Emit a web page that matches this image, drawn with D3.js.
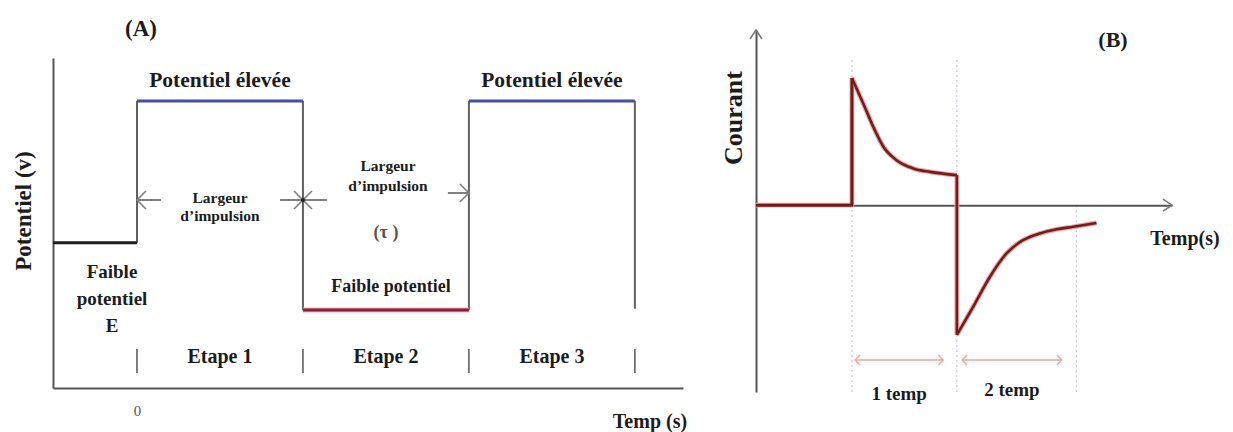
<!DOCTYPE html>
<html>
<head>
<meta charset="utf-8">
<script src="https://cdn.jsdelivr.net/npm/d3@7"></script>
<style>
  html, body { margin: 0; padding: 0; background: #fff; }
  svg { display: block; }
  text { font-family: "Liberation Serif", "Times New Roman", serif; font-weight: bold; fill: #1c1c1c; }
  .axis path { stroke: #555; stroke-width: 2; }
  .axis text { font-weight: normal; fill: #555; font-size: 15px; }
</style>
</head>
<body>
<svg id="chart" width="1233" height="432"></svg>
<script>
// ---------- Panel A: potential programme (time in pulse widths τ) ----------
const pulseEdges  = [0, 1, 2, 3];
const levelStart  = [-0.506, 0, 1, 2];
const levelEnd    = [0, 1, 2, 3];
const levelValue  = [0.44, 0.87, 0.236, 0.87];
const lastReturn  = 0.24;               // level reached by the trailing edge
const stageLabels = ["Etape 1", "Etape 2", "Etape 3"];
const timeTicksA  = [0];

// ---------- Panel B: current response (time in pulse widths, current relative to first peak) ----------
const baseT    = [-0.914, 0, 0];
const baseI    = [0, 0, 1.0];
const decayT   = [0, 0.108, 0.203, 0.30, 0.425, 0.584, 0.743, 1.0];
const decayI   = [1.0, 0.80, 0.617, 0.46, 0.354, 0.289, 0.262, 0.236];
const jumpT    = [1.0, 1.0];
const jumpI    = [0.236, -1.02];
const recoverT = [1.0, 1.155, 1.314, 1.473, 1.63, 1.79, 1.95, 2.11, 2.33];
const recoverI = [-1.02, -0.80, -0.565, -0.38, -0.276, -0.223, -0.19, -0.17, -0.14];
const markerT  = [0, 1, 2.14];
const spanStart = [0.03, 1.05];
const spanEnd   = [0.87, 2.0];
const spanLabels = ["1 temp", "2 temp"];

// ---------- styles ----------
const levelColors = ["#1e1e1e", "#4b4b9f", "#8a2035", "#4b4b9f"];
const edgeColor = "#606060";
const axisGray = "#7a7a7a";
const currentColor = "#731c1c";
const haloColor = "#e7a3a3";
const spanColor = "#f0a4a4";

const svg = d3.select("#chart");

// ================= Panel A =================
const xA = d3.scaleLinear().domain([-0.506, 3.29]).range([53, 683]);
const yA = d3.scaleLinear().domain([0, 1]).range([388, 58]);

const gA = svg.append("g");

// axes
gA.append("g").attr("class", "axis")
  .attr("transform", `translate(0,${yA(0)})`)
  .call(d3.axisBottom(xA).tickValues(timeTicksA).tickSize(0).tickSizeOuter(0).tickPadding(17)
        .tickFormat(d3.format("d")));
gA.append("g").attr("class", "axis")
  .attr("transform", `translate(${xA.range()[0]},0)`)
  .call(d3.axisLeft(yA).tickValues([]).tickSizeOuter(0));

// vertical edges of the pulse train
const edgeFrom = [levelValue[0], levelValue[1], levelValue[2], levelValue[3]];
const edgeTo   = [levelValue[1], levelValue[2], levelValue[3], lastReturn];
gA.selectAll("line.edge").data(pulseEdges).join("line")
  .attr("class", "edge")
  .attr("x1", d => xA(d)).attr("x2", d => xA(d))
  .attr("y1", (d, i) => yA(edgeFrom[i])).attr("y2", (d, i) => yA(edgeTo[i]))
  .attr("stroke", edgeColor).attr("stroke-width", 2);

// horizontal levels
gA.selectAll("line.lvl-halo").data(levelValue).join("line")
  .attr("class", "lvl-halo")
  .attr("x1", (d, i) => xA(levelStart[i])).attr("x2", (d, i) => xA(levelEnd[i]))
  .attr("y1", d => yA(d)).attr("y2", d => yA(d))
  .attr("stroke", (d, i) => i === 2 ? "#f0b0b8" : "none").attr("stroke-width", 5);
gA.selectAll("line.lvl").data(levelValue).join("line")
  .attr("class", "lvl")
  .attr("x1", (d, i) => xA(levelStart[i])).attr("x2", (d, i) => xA(levelEnd[i]))
  .attr("y1", d => yA(d)).attr("y2", d => yA(d))
  .attr("stroke", (d, i) => levelColors[i]).attr("stroke-width", 3);

// stage separators and labels
gA.selectAll("line.stage").data(pulseEdges).join("line")
  .attr("class", "stage")
  .attr("x1", d => xA(d)).attr("x2", d => xA(d))
  .attr("y1", 349).attr("y2", 373)
  .attr("stroke", "#555").attr("stroke-width", 1.5);
gA.selectAll("text.stage").data(stageLabels).join("text")
  .attr("class", "stage")
  .attr("x", (d, i) => (xA(pulseEdges[i]) + xA(pulseEdges[i + 1])) / 2)
  .attr("y", 363).attr("text-anchor", "middle").attr("font-size", 20)
  .text(d => d);

// titles and annotations
const tA = (x, y, s, size, extra) => {
  const t = gA.append("text").attr("x", x).attr("y", y).attr("text-anchor", "middle")
    .attr("font-size", size).text(s);
  if (extra) extra(t);
  return t;
};
tA(141, 36, "(A)", 23);
tA((xA(0) + xA(1)) / 2, 87, "Potentiel élevée", 21.5);
tA((xA(2) + xA(3)) / 2, 87, "Potentiel élevée", 21.5);
tA(220, 203, "Largeur", 15.5);
tA(220, 221, "d’impulsion", 15.5);
tA(388, 171, "Largeur", 15.5);
tA(388, 191, "d’impulsion", 15.5);
tA(386, 238, "(τ )", 18, t => t.attr("font-weight", "normal").style("fill", "#555"));
tA(391, 292, "Faible potentiel", 18);
tA(112, 278, "Faible", 19);
tA(112, 305, "potentiel", 19);
tA(112, 332, "E", 19);
tA(650, 428, "Temp (s)", 20);
gA.append("text").attr("transform", "translate(31,211) rotate(-90)")
  .attr("text-anchor", "middle").attr("font-size", 23).text("Potentiel (v)");

// pulse-width arrows
const arrowGray = "#808080";
function chevron(g, x, y, dir, size, color, w) {
  g.append("path")
    .attr("d", `M${x - dir * size},${y - size} L${x},${y} L${x - dir * size},${y + size}`)
    .attr("fill", "none").attr("stroke", color).attr("stroke-width", w);
}
const yArrow1 = 200, yArrow2 = 193;
gA.append("line").attr("x1", xA(0)).attr("x2", xA(0) + 24).attr("y1", yArrow1).attr("y2", yArrow1)
  .attr("stroke", arrowGray).attr("stroke-width", 2);
chevron(gA, xA(0), yArrow1, -1, 9, arrowGray, 1.6);
gA.append("line").attr("x1", xA(1) - 23).attr("x2", xA(1) + 24).attr("y1", yArrow1).attr("y2", yArrow1)
  .attr("stroke", arrowGray).attr("stroke-width", 2);
chevron(gA, xA(1), yArrow1, 1, 9, arrowGray, 1.6);
chevron(gA, xA(1), yArrow1, -1, 9, arrowGray, 1.6);
gA.append("circle").attr("cx", xA(1)).attr("cy", yArrow1).attr("r", 2).attr("fill", "#222");
gA.append("line").attr("x1", xA(2) - 21).attr("x2", xA(2)).attr("y1", yArrow2).attr("y2", yArrow2)
  .attr("stroke", arrowGray).attr("stroke-width", 2);
chevron(gA, xA(2), yArrow2, 1, 9, arrowGray, 1.6);

// ================= Panel B =================
const xB = d3.scaleLinear().domain([-0.914, 3.05]).range([756, 1172]);
const yB = d3.scaleLinear().domain([-1.47, 1.378]).range([392, 30]);
const gB = svg.append("g");

// time markers
gB.selectAll("line.marker").data(markerT).join("line")
  .attr("class", "marker")
  .attr("x1", d => xB(d)).attr("x2", d => xB(d))
  .attr("y1", (d, i) => i === 2 ? yB(0) : 60).attr("y2", yB(-1.47))
  .attr("stroke", "#c4c8d4").attr("stroke-width", 1.2).attr("stroke-dasharray", "2,3");

// axes
const axB = gB.append("g");
axB.append("g").attr("class", "axis")
  .attr("transform", `translate(0,${yB(0)})`)
  .call(d3.axisBottom(xB).tickValues([]).tickSizeOuter(0));
axB.append("g").attr("class", "axis")
  .attr("transform", `translate(${xB(-0.914)},0)`)
  .call(d3.axisLeft(yB).tickValues([]).tickSizeOuter(0));
axB.selectAll("path.domain").attr("stroke", axisGray).attr("stroke-width", 1.6);
gB.append("path")
  .attr("d", `M${xB(3.05) - 9},${yB(0) - 6} L${xB(3.05)},${yB(0)} L${xB(3.05) - 9},${yB(0) + 6}`)
  .attr("fill", "none").attr("stroke", axisGray).attr("stroke-width", 1.6);
gB.append("path")
  .attr("d", `M${xB(-0.914) - 6},${yB(1.378) + 9} L${xB(-0.914)},${yB(1.378)} L${xB(-0.914) + 6},${yB(1.378) + 9}`)
  .attr("fill", "none").attr("stroke", axisGray).attr("stroke-width", 1.6);

// current trace
const lineLinear = d3.line().x(d => xB(d[0])).y(d => yB(d[1]));
const lineSmooth = d3.line().x(d => xB(d[0])).y(d => yB(d[1])).curve(d3.curveMonotoneX);
const zipTI = (t, v) => t.map((d, i) => [d, v[i]]);
const pieces = [
  [lineLinear, zipTI(baseT, baseI)],
  [lineSmooth, zipTI(decayT, decayI)],
  [lineLinear, zipTI(jumpT, jumpI)],
  [lineSmooth, zipTI(recoverT, recoverI)]
];
pieces.forEach(([gen, pts]) => {
  gB.append("path").attr("d", gen(pts)).attr("fill", "none")
    .attr("stroke", haloColor).attr("stroke-width", 4.8).attr("stroke-linejoin", "round");
});
pieces.forEach(([gen, pts], k) => {
  gB.append("path").attr("d", gen(pts)).attr("fill", "none")
    .attr("stroke", currentColor).attr("stroke-width", k === 0 ? 3 : 2.6)
    .attr("stroke-linejoin", "round");
});

// duration spans
const ySpan = 360;
spanStart.forEach((s, i) => {
  const x0 = xB(s), x1 = xB(spanEnd[i]);
  gB.append("line").attr("x1", x0).attr("x2", x1).attr("y1", ySpan).attr("y2", ySpan)
    .attr("stroke", spanColor).attr("stroke-width", 1.6);
  chevron(gB, x0, ySpan, -1, 5, spanColor, 1.4);
  chevron(gB, x1, ySpan, 1, 5, spanColor, 1.4);
});
const spanLabelY = [400, 396];
spanLabels.forEach((s, i) => {
  gB.append("text").attr("x", (xB(spanStart[i]) + xB(spanEnd[i])) / 2)
    .attr("y", spanLabelY[i]).attr("text-anchor", "middle").attr("font-size", 19).text(s);
});

gB.append("text").attr("x", 1113).attr("y", 47).attr("text-anchor", "middle").attr("font-size", 22).text("(B)");
gB.append("text").attr("x", 1185).attr("y", 245).attr("text-anchor", "middle").attr("font-size", 20).text("Temp(s)");
gB.append("text").attr("transform", "translate(742,118) rotate(-90)")
  .attr("text-anchor", "middle").attr("font-size", 26).text("Courant");
</script>
</body>
</html>
